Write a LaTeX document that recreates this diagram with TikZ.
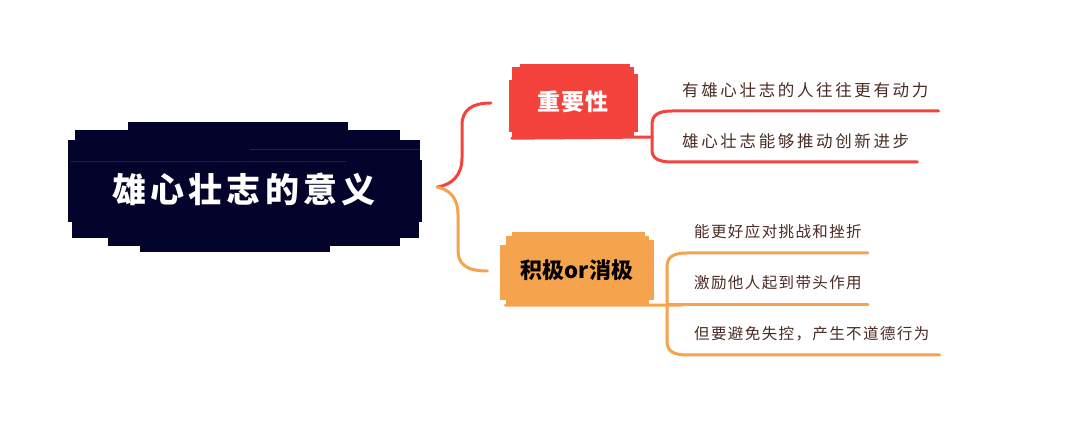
\documentclass[tikz,border=0pt]{standalone}
\usepackage{fontspec}
\newfontfamily\cjk{Noto Sans CJK SC}
\definecolor{cnavy}{HTML}{03032B}
\definecolor{cred}{HTML}{F4433C}
\definecolor{corange}{HTML}{F5A34C}
\definecolor{ctext}{HTML}{4A2C24}
\tikzset{
  conn/.style={line width=3pt,line cap=round,line join=round},
  redc/.style={conn,draw=cred},
  orac/.style={conn,draw=corange},
  leafup/.style={anchor=west,inner sep=0pt,text=ctext,font=\cjk\fontsize{16.5}{18}\selectfont\addfontfeature{LetterSpace=16}},
  leaflow/.style={anchor=west,inner sep=0pt,text=ctext,font=\cjk\fontsize{15.5}{17}\selectfont\addfontfeature{LetterSpace=9}},
}
\begin{document}
\begin{tikzpicture}[x=1pt,y=-1pt]
\useasboundingbox (0,0) rectangle (1080,427);
\fill[white] (0,0) rectangle (1080,427);
% root rough box
\fill[cnavy] (128,122) rectangle (348,135);
\fill[cnavy] (75,130) rectangle (400,145);
\fill[cnavy] (68,140) rectangle (420,162);
\fill[cnavy] (68,160) rectangle (422,222);
\fill[cnavy] (72,220) rectangle (419,238);
\fill[cnavy] (108,236) rectangle (400,246);
\fill[cnavy] (140,244) rectangle (330,252);
\draw[white,opacity=0.12,line width=0.8pt] (250,149) -- (420,149);
\draw[white,opacity=0.1,line width=0.8pt] (70,161) -- (347,161);
\node[minimum width=352pt,minimum height=120pt,inner sep=0pt] (root) at (245,187) {};
\node[text=white,font=\cjk\bfseries\fontsize{34}{36}\selectfont\addfontfeature{LetterSpace=12}] at (244,189) {雄心壮志的意义};
% red box
\fill[cred] (520,64) rectangle (630,72);
\fill[cred] (509,80) rectangle (520,132);
\fill[cred] (628,74) rectangle (638,132);
\node[fill=cred,minimum width=122pt,minimum height=70pt,inner sep=0pt,text=white,font=\cjk\bfseries\fontsize{23}{25}\selectfont\addfontfeature{LetterSpace=5}] (imp) at (573,102) {重要性};
% orange box
\fill[corange] (512,232) rectangle (645,240);
\fill[corange] (500,245) rectangle (512,300);
\fill[corange] (645,240) rectangle (654,300);
\node[fill=corange,minimum width=143pt,minimum height=68pt,inner sep=0pt,text=black,font=\cjk\bfseries\fontsize{22}{24}\selectfont] (pos) at (577,270) {积极or消极};
% leaves
\node[leafup] (c1) at (682,90) {有雄心壮志的人往往更有动力};
\node[leafup] (c2) at (682,141) {雄心壮志能够推动创新进步};
\node[leaflow] (c3) at (694,232) {能更好应对挑战和挫折};
\node[leaflow] (c4) at (694,283) {激励他人起到带头作用};
\node[leaflow] (c5) at (694,334) {但要避免失控，产生不道德行为};
% coordinates
\coordinate (rs) at ([xshift=16pt]root.east);
\coordinate (impin) at ([xshift=-21pt,yshift=-1pt]imp.west);
\coordinate (posin) at ([xshift=-18pt,yshift=-1pt]pos.west);
% root branches
\draw[redc] (rs) .. controls (452,185) and (462,175) .. (462,158) -- (462,125) .. controls (462,110) and (472,103) .. (impin);
\draw[orac] (rs) .. controls (450,190) and (458,198) .. (458,215) -- (458,250) .. controls (458,264) and (466,271) .. (posin);
% red children
\draw[redc] (imp.south west) ++(0,1) -- (652,137);
\draw[redc] (652,137) -- (652,125) .. controls (652,115) and (658,111) .. (672,111) -- ([xshift=10pt]c1.east |- 0,111);
\draw[redc] (652,137) -- (652,150) .. controls (652,158) and (658,162) .. (672,162) -- ([xshift=8pt]c2.east |- 0,162);
% orange children
\draw[orac] (pos.south west) ++(0,1) -- (683,305);
\draw[orac] (667,305) -- (667,267) .. controls (667,257) and (673,253) .. (687,253) -- ([xshift=6pt]c3.east |- 0,253);
\draw[orac] (667,305) -- ([xshift=6pt]c4.east |- 0,305);
\draw[orac] (667,305) -- (667,341) .. controls (667,351) and (673,355) .. (687,355) -- ([xshift=10pt]c5.east |- 0,355);
\end{tikzpicture}
\end{document}
